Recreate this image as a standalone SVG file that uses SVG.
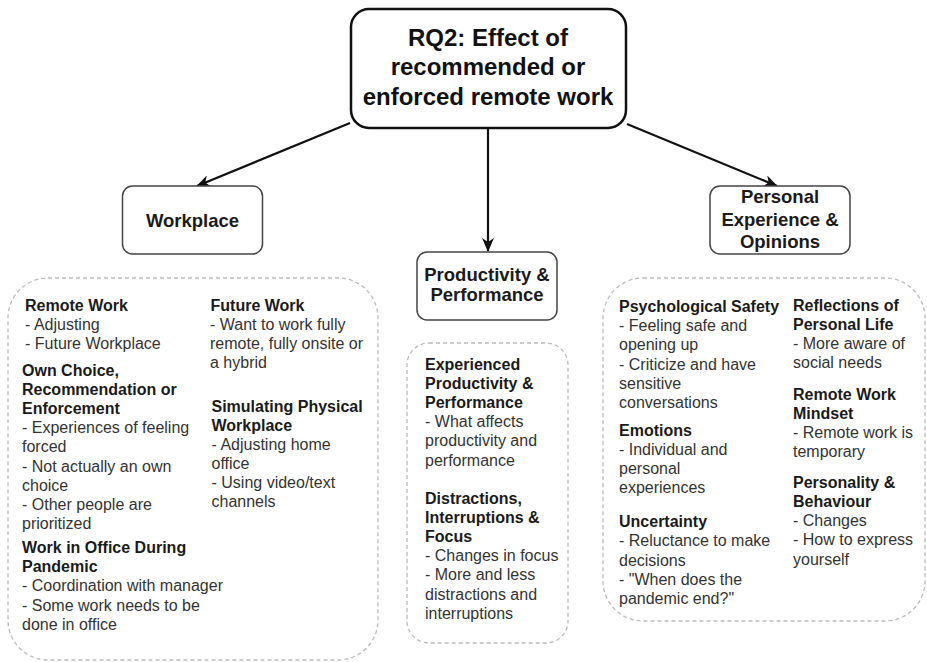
<svg xmlns="http://www.w3.org/2000/svg" width="927" height="662" viewBox="0 0 927 662">
<defs>
<marker id="arrow" markerUnits="userSpaceOnUse" markerWidth="14" markerHeight="12" refX="13" refY="6" orient="auto">
<path d="M0,0 L14,6 L0,12 L4,6 z" fill="#111"/>
</marker>
<style>
.main{fill:#fff;stroke:#111;stroke-width:2.5}
.sub{fill:#fff;stroke:#444;stroke-width:1.5}
.cont{fill:#fff;stroke:#bbb;stroke-width:1.3;stroke-dasharray:4 3}
.edge{stroke:#111;stroke-width:2.2;fill:none;marker-end:url(#arrow)}
text{font-family:"Liberation Sans",Arial,Helvetica,sans-serif}
.t1{font-size:24px;font-weight:bold;fill:#111;text-anchor:middle}
.t2{font-size:18.5px;font-weight:bold;fill:#1a1a1a;text-anchor:middle}
.b{font-size:16px;font-weight:bold;fill:#1a1a1a}
.n{font-size:16px;fill:#333}
</style>
</defs>
<rect width="927" height="662" fill="#fff"/>
<g id="connectors">
<line class="edge" x1="350" y1="123" x2="197" y2="186"/>
<line class="edge" x1="488" y1="128" x2="488" y2="251"/>
<line class="edge" x1="627" y1="124" x2="777" y2="186"/>
</g>
<g id="rq2">
<rect class="main" x="351" y="9" width="275" height="119" rx="18"/>
<text class="t1" x="488" y="45.5">RQ2: Effect of</text>
<text class="t1" x="488" y="75">recommended or</text>
<text class="t1" x="488" y="104.5">enforced remote work</text>
</g>
<g id="workplace">
<rect class="sub" x="122.5" y="186" width="140" height="68" rx="10"/>
<text class="t2" x="192.5" y="226.5">Workplace</text>
</g>
<g id="productivity">
<rect class="sub" x="417" y="252" width="140" height="68" rx="10"/>
<text class="t2" x="487" y="280.5">Productivity &amp;</text>
<text class="t2" x="487" y="300.5">Performance</text>
</g>
<g id="personal">
<rect class="sub" x="710" y="186" width="140" height="68" rx="10"/>
<text class="t2" x="780" y="203">Personal</text>
<text class="t2" x="780" y="226">Experience &amp;</text>
<text class="t2" x="780" y="248">Opinions</text>
</g>
<g id="workplace-details">
<rect class="cont" x="8" y="278" width="370" height="382" rx="40"/>
<text class="b" x="25" y="310.5">Remote Work</text>
<text class="n" x="25" y="329.7">- Adjusting</text>
<text class="n" x="25" y="348.9">- Future Workplace</text>
<text class="b" x="22" y="375.5">Own Choice,</text>
<text class="b" x="22" y="394.7">Recommendation or</text>
<text class="b" x="22" y="413.9">Enforcement</text>
<text class="n" x="22" y="433.1">- Experiences of feeling</text>
<text class="n" x="22" y="452.3">forced</text>
<text class="n" x="22" y="471.5">- Not actually an own</text>
<text class="n" x="22" y="490.7">choice</text>
<text class="n" x="22" y="509.9">- Other people are</text>
<text class="n" x="22" y="529.1">prioritized</text>
<text class="b" x="22" y="553">Work in Office During</text>
<text class="b" x="22" y="572.2">Pandemic</text>
<text class="n" x="22" y="591.4">- Coordination with manager</text>
<text class="n" x="22" y="610.6">- Some work needs to be</text>
<text class="n" x="22" y="629.8">done in office</text>
<text class="b" x="210.5" y="310.5">Future Work</text>
<text class="n" x="210" y="329.7">- Want to work fully</text>
<text class="n" x="210" y="348.9">remote, fully onsite or</text>
<text class="n" x="210" y="368.1">a hybrid</text>
<text class="b" x="211.5" y="412">Simulating Physical</text>
<text class="b" x="211.5" y="430.5">Workplace</text>
<text class="n" x="211.5" y="449.7">- Adjusting home</text>
<text class="n" x="211.5" y="468.9">office</text>
<text class="n" x="211.5" y="488.1">- Using video/text</text>
<text class="n" x="211.5" y="507.3">channels</text>
</g>
<g id="productivity-details">
<rect class="cont" x="407" y="343" width="161" height="300" rx="22"/>
<text class="b" x="425" y="369.5">Experienced</text>
<text class="b" x="425" y="388.7">Productivity &amp;</text>
<text class="b" x="425" y="407.9">Performance</text>
<text class="n" x="425" y="427.1">- What affects</text>
<text class="n" x="425" y="446.3">productivity and</text>
<text class="n" x="425" y="465.5">performance</text>
<text class="b" x="425" y="503.5">Distractions,</text>
<text class="b" x="425" y="522.7">Interruptions &amp;</text>
<text class="b" x="425" y="541.9">Focus</text>
<text class="n" x="425" y="561.1">- Changes in focus</text>
<text class="n" x="425" y="580.3">- More and less</text>
<text class="n" x="425" y="599.5">distractions and</text>
<text class="n" x="425" y="618.7">interruptions</text>
</g>
<g id="personal-details">
<rect class="cont" x="603" y="278" width="322" height="343" rx="40"/>
<text class="b" x="619" y="312">Psychological Safety</text>
<text class="n" x="619" y="331.2">- Feeling safe and</text>
<text class="n" x="619" y="350.4">opening up</text>
<text class="n" x="619" y="369.6">- Criticize and have</text>
<text class="n" x="619" y="388.8">sensitive</text>
<text class="n" x="619" y="408">conversations</text>
<text class="b" x="619" y="435.5">Emotions</text>
<text class="n" x="619" y="454.7">- Individual and</text>
<text class="n" x="619" y="473.9">personal</text>
<text class="n" x="619" y="493.1">experiences</text>
<text class="b" x="619" y="527.2">Uncertainty</text>
<text class="n" x="619" y="546.4">- Reluctance to make</text>
<text class="n" x="619" y="565.6">decisions</text>
<text class="n" x="619" y="584.8">- "When does the</text>
<text class="n" x="619" y="604">pandemic end?"</text>
<text class="b" x="793" y="310.5">Reflections of</text>
<text class="b" x="793" y="329.7">Personal Life</text>
<text class="n" x="793" y="348.9">- More aware of</text>
<text class="n" x="793" y="368.1">social needs</text>
<text class="b" x="793" y="399.5">Remote Work</text>
<text class="b" x="793" y="418.7">Mindset</text>
<text class="n" x="793" y="437.9">- Remote work is</text>
<text class="n" x="793" y="457.1">temporary</text>
<text class="b" x="793" y="487.8">Personality &amp;</text>
<text class="b" x="793" y="507">Behaviour</text>
<text class="n" x="793" y="526.2">- Changes</text>
<text class="n" x="793" y="545.4">- How to express</text>
<text class="n" x="793" y="564.6">yourself</text>
</g>
</svg>
